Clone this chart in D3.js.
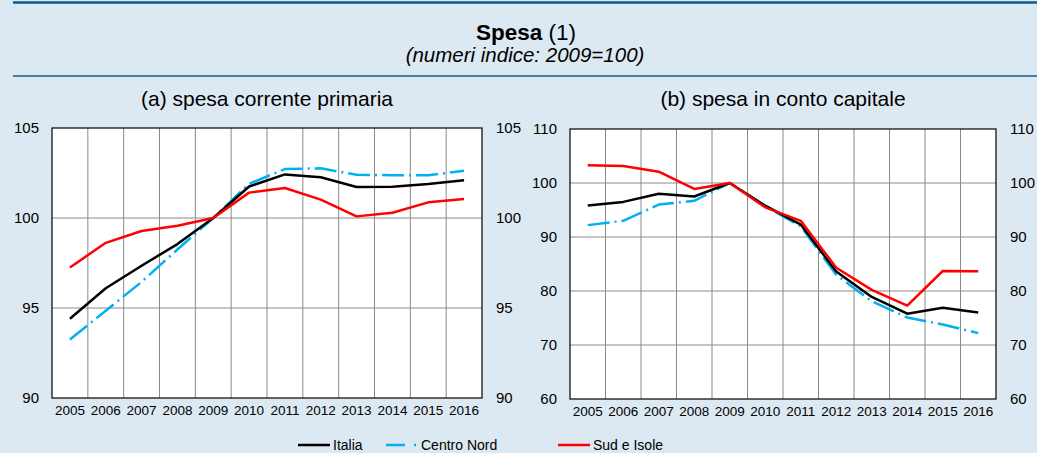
<!DOCTYPE html>
<html>
<head>
<meta charset="utf-8">
<script src="https://cdn.jsdelivr.net/npm/d3@7"></script>
<style>
  body { margin: 0; background: #dde9f2; }
  svg { display: block; font-family: "Liberation Sans", Arial, sans-serif; }
</style>
</head>
<body>
<svg id="chart" width="1037" height="453"></svg>
<script>
// categories
const years = ['2005', '2006', '2007', '2008', '2009', '2010', '2011', '2012', '2013', '2014', '2015', '2016'];

// (a) spesa corrente primaria
const italiaA = [94.4, 96.1, 97.35, 98.55, 100, 101.75, 102.42, 102.26, 101.72, 101.74, 101.89, 102.1];
const centroNordA = [93.25, 94.85, 96.45, 98.25, 100, 101.9, 102.72, 102.76, 102.4, 102.38, 102.38, 102.62];
const sudA = [97.25, 98.62, 99.28, 99.57, 100, 101.41, 101.67, 101.02, 100.09, 100.29, 100.87, 101.05];
const ticksA = [90, 95, 100, 105];

// (b) spesa in conto capitale
const italiaB = [95.85, 96.5, 98.0, 97.5, 100, 95.8, 92.3, 83.6, 78.9, 75.8, 76.9, 76.0];
const centroNordB = [92.2, 93.0, 96.0, 96.7, 100, 95.7, 92.0, 83.0, 78.1, 75.1, 73.8, 72.2];
const sudB = [103.3, 103.15, 102.1, 98.9, 100, 95.5, 93.0, 84.3, 80.2, 77.3, 83.7, 83.65];
const ticksB = [60, 70, 80, 90, 100, 110];

const seriesNames = ['Italia', 'Centro Nord', 'Sud e Isole'];
const colors = { 'Italia': '#000000', 'Centro Nord': '#00b0f0', 'Sud e Isole': '#ff0000' };
const dashes = { 'Italia': null, 'Centro Nord': '22,5,2,5', 'Sud e Isole': null };

const svg = d3.select('#chart');

// header lines + titles
svg.append('line').attr('x1', 13).attr('x2', 1037).attr('y1', 2.5).attr('y2', 2.5)
  .attr('stroke', '#0f5a8c').attr('stroke-width', 2.5);
svg.append('line').attr('x1', 13).attr('x2', 1037).attr('y1', 76).attr('y2', 76)
  .attr('stroke', '#0f5a8c').attr('stroke-width', 1.5);

const title = svg.append('text').attr('x', 526).attr('y', 40)
  .attr('text-anchor', 'middle').attr('font-size', 22.5).attr('fill', '#000');
title.append('tspan').attr('font-weight', 'bold').text('Spesa');
title.append('tspan').text(' (1)');

svg.append('text').attr('x', 525).attr('y', 62)
  .attr('text-anchor', 'middle').attr('font-size', 20.5).attr('font-style', 'italic')
  .text('(numeri indice: 2009=100)');

function drawPanel(p) {
  const x = d3.scaleBand().domain(years).range([p.left, p.right]).padding(0);
  const y = d3.scaleLinear().domain(p.domain).range([p.bottom, p.top]);
  const g = svg.append('g');

  g.append('rect').attr('x', p.left).attr('y', p.top)
    .attr('width', p.right - p.left).attr('height', p.bottom - p.top)
    .attr('fill', '#fff');

  // vertical grid between categories
  g.selectAll('.vgrid').data(years.slice(1)).enter().append('line')
    .attr('x1', d => x(d)).attr('x2', d => x(d))
    .attr('y1', p.top).attr('y2', p.bottom)
    .attr('stroke', '#8a8a8a').attr('stroke-width', 1);

  // horizontal grid
  g.selectAll('.hgrid').data(p.ticks.slice(1, -1)).enter().append('line')
    .attr('x1', p.left).attr('x2', p.right)
    .attr('y1', d => y(d)).attr('y2', d => y(d))
    .attr('stroke', '#8a8a8a').attr('stroke-width', 1);

  g.append('rect').attr('x', p.left).attr('y', p.top)
    .attr('width', p.right - p.left).attr('height', p.bottom - p.top)
    .attr('fill', 'none').attr('stroke', '#000').attr('stroke-width', 1.2);

  // y labels, both sides
  g.selectAll('.yl').data(p.ticks).enter().append('text')
    .attr('x', p.left - 13).attr('y', d => y(d)).attr('dy', '0.35em')
    .attr('text-anchor', 'end').attr('font-size', 15).text(d => d);
  g.selectAll('.yr').data(p.ticks).enter().append('text')
    .attr('x', p.right + 14).attr('y', d => y(d)).attr('dy', '0.35em')
    .attr('text-anchor', 'start').attr('font-size', 15).text(d => d);

  // x labels
  g.selectAll('.xl').data(years).enter().append('text')
    .attr('x', d => x(d) + x.bandwidth() / 2).attr('y', p.bottom + 17)
    .attr('text-anchor', 'middle').attr('font-size', 13.5).text(d => d);

  // panel title
  g.append('text').attr('x', (p.left + p.right) / 2).attr('y', 106)
    .attr('text-anchor', 'middle').attr('font-size', 21).text(p.title);

  const line = d3.line()
    .x((d, i) => x(years[i]) + x.bandwidth() / 2)
    .y(d => y(d));

  ['Centro Nord', 'Italia', 'Sud e Isole'].forEach(name => {
    g.append('path').datum(p.series[name])
      .attr('d', line)
      .attr('fill', 'none')
      .attr('stroke', colors[name])
      .attr('stroke-width', 2.5)
      .attr('stroke-dasharray', dashes[name])
      .attr('stroke-linejoin', 'round');
  });
}

drawPanel({
  title: '(a) spesa corrente primaria',
  left: 52, right: 482, top: 128, bottom: 398,
  domain: [90, 105], ticks: ticksA,
  series: { 'Italia': italiaA, 'Centro Nord': centroNordA, 'Sud e Isole': sudA }
});

drawPanel({
  title: '(b) spesa in conto capitale',
  left: 570, right: 996, top: 129, bottom: 399,
  domain: [60, 110], ticks: ticksB,
  series: { 'Italia': italiaB, 'Centro Nord': centroNordB, 'Sud e Isole': sudB }
});

// legend
const legendPos = { 'Italia': 298, 'Centro Nord': 386, 'Sud e Isole': 558 };
const legend = svg.append('g');
seriesNames.forEach(name => {
  const lx = legendPos[name];
  legend.append('line').attr('x1', lx).attr('x2', lx + 32)
    .attr('y1', 445).attr('y2', 445)
    .attr('stroke', colors[name]).attr('stroke-width', 2.5)
    .attr('stroke-dasharray', name === 'Centro Nord' ? '19,9,2,9' : null);
  legend.append('text').attr('x', lx + 35).attr('y', 445).attr('dy', '0.35em')
    .attr('font-size', 14).text(name);
});
</script>
</body>
</html>
